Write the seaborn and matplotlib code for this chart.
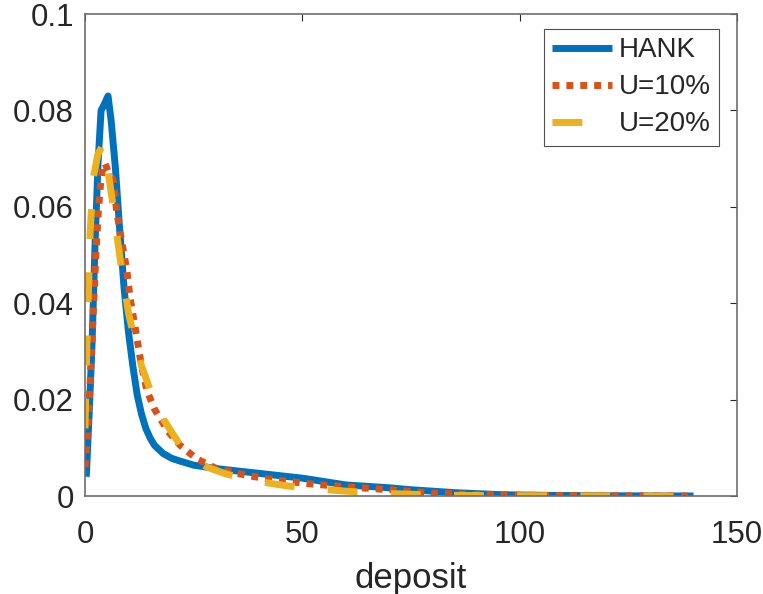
import matplotlib
matplotlib.use("Agg")
import matplotlib.pyplot as plt
import seaborn as sns
import pandas as pd

# ---- data ----
hank_x = [0.3, 1, 1.6, 2.3, 3, 3.7, 4.3, 5.3, 6, 7, 8, 9, 10, 11, 12, 13, 14, 15, 16, 18, 20, 22, 25,
          30, 35, 40, 45, 50, 55, 60, 65, 70, 75, 80, 85, 90, 95, 100, 110, 120, 130, 140]
hank_y = [0.004, 0.018, 0.031, 0.052, 0.069, 0.080, 0.081, 0.083, 0.078, 0.068, 0.055, 0.043, 0.034,
          0.027, 0.021, 0.017, 0.014, 0.012, 0.0105, 0.0088, 0.0078, 0.0072, 0.0064,
          0.0057, 0.0052, 0.0047, 0.0042, 0.0037, 0.003, 0.0023, 0.002, 0.0017, 0.0013, 0.001, 0.0007,
          0.0005, 0.0003, 0.0002, 0.0001, 0.00005, 0.00002, 0.0]

u10_x = [0, 0.5, 1, 1.5, 2, 2.5, 3, 3.5, 4, 4.6, 5.5, 6.5, 7.3, 8.5, 9.6, 10.4, 11.9, 13, 14.2, 16,
         17.7, 19, 21.9, 25.7, 30, 35, 39, 45, 52, 60, 70, 80, 90, 100, 110, 120, 130, 140]
u10_y = [0.006, 0.012, 0.02, 0.03, 0.04, 0.05, 0.058, 0.064, 0.068, 0.069, 0.067, 0.0655, 0.059,
         0.0525, 0.047, 0.041, 0.033, 0.027, 0.022, 0.018, 0.0155, 0.0135, 0.0105, 0.0077, 0.0058,
         0.0047, 0.004, 0.0032, 0.0025, 0.0019, 0.0013, 0.0006, 0.0003, 0.00015, 0.00008, 0.00004,
         0.00002, 0.0]

u20_x = [0, 0.4, 0.8, 1.2, 1.9, 3, 4.2, 5.2, 6.5, 7.5, 8.6, 10, 11, 13, 15, 18, 21.9, 25, 28, 32.7,
         40, 46.5, 53, 60, 67, 74, 80, 90, 100, 110, 120, 130, 140]
u20_y = [0.014, 0.03, 0.043, 0.055, 0.066, 0.071, 0.073, 0.068, 0.06, 0.053, 0.046, 0.038, 0.034,
         0.027, 0.022, 0.016, 0.0105, 0.0078, 0.006, 0.0045, 0.003, 0.0021, 0.0015, 0.001, 0.0006,
         0.0004, 0.0002, 0.0001, 0.00005, 0.00003, 0.00001, 0.0, 0.0]

labels = ["HANK", "U=10%", "U=20%"]
x_ticks = [0, 50, 100, 150]
y_ticks = [0, 0.02, 0.04, 0.06, 0.08, 0.1]
y_tick_labels = ["0", "0.02", "0.04", "0.06", "0.08", "0.1"]
x_label = "deposit"

# ---- style ----
sns.set_style("white")
plt.rcParams["font.family"] = ["Liberation Sans", "DejaVu Sans"]

fig = plt.figure(figsize=(7.63, 5.94), dpi=100)
ax = fig.add_axes([85 / 763, 1 - 496 / 594, (737 - 85) / 763, (496 - 14) / 594])

colors = ["#0072BD", "#D95319", "#EDB120"]
styles = ["-", (0, (1, 1)), (0, (4.3, 4.8))]
series = [(hank_x, hank_y), (u10_x, u10_y), (u20_x, u20_y)]

for (xs, ys), lab, c, ls in zip(series, labels, colors, styles):
    df = pd.DataFrame({"x": xs, "y": ys})
    sns.lineplot(data=df, x="x", y="y", ax=ax, color=c, linewidth=5, label=lab,
                 linestyle=ls, sort=False, estimator=None)

for line in ax.get_lines():
    line.set_dash_capstyle("butt")
    line.set_solid_capstyle("butt")

ax.set_xlim(0, 150)
ax.set_ylim(0, 0.1)
ax.set_xticks(x_ticks)
ax.set_xticklabels([str(t) for t in x_ticks])
ax.set_yticks(y_ticks)
ax.set_yticklabels(y_tick_labels)
ax.set_xlabel(x_label, fontsize=25, color="#262626", labelpad=9)
ax.set_ylabel("")

ax.tick_params(direction="in", length=5, width=0.8, colors="#262626",
               labelsize=22.5, top=True, right=True)
ax.tick_params(axis="x", pad=17)
ax.tick_params(axis="y", pad=8)
for sp in ax.spines.values():
    sp.set_visible(True)
    sp.set_color("#6e6e6e")
    sp.set_linewidth(1.2)

leg = ax.legend(loc="upper right", bbox_to_anchor=(0.972, 0.969), borderaxespad=0,
                fontsize=20, frameon=True, fancybox=False, edgecolor="#262626",
                handlelength=2.16, handletextpad=0.22, labelspacing=0.4,
                borderpad=0.3)
leg.get_frame().set_linewidth(0.8)
for h in leg.get_lines():
    h.set_linewidth(5)

fig.savefig("out.png", dpi=100)
